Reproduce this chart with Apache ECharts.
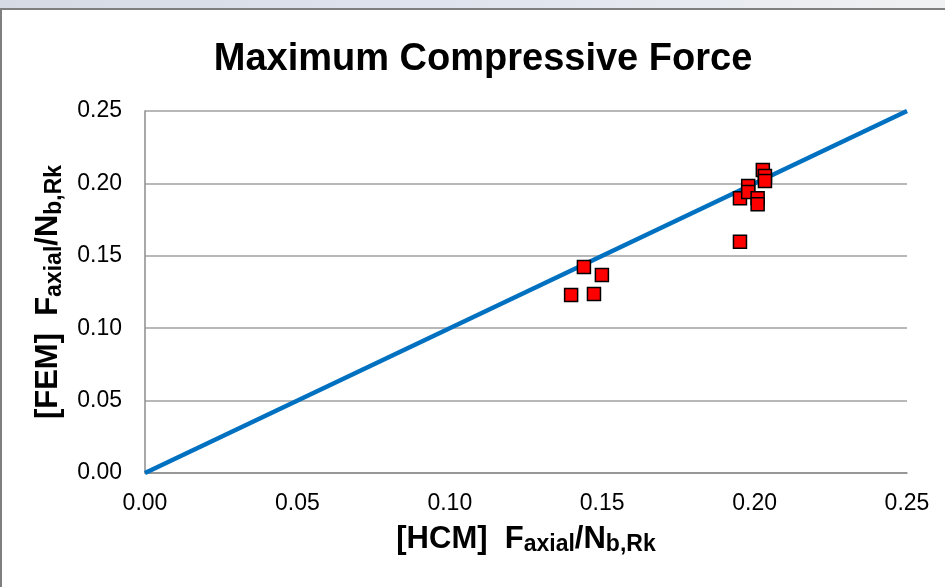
<!DOCTYPE html>
<html>
<head>
<meta charset="utf-8">
<script src="https://cdn.jsdelivr.net/npm/echarts@6/dist/echarts.min.js"></script>
<style>
  html, body { margin: 0; padding: 0; background: #fff; }
  #chart { width: 945px; height: 587px; }
</style>
</head>
<body>
<div id="chart"></div>
<script>
// data
const hcm = [0.1398, 0.1440, 0.1473, 0.1499, 0.1952, 0.1952, 0.1979, 0.1979, 0.2010, 0.2010, 0.2027, 0.2034, 0.2034];
const fem = [0.1229, 0.1423, 0.1236, 0.1367, 0.1597, 0.1897, 0.1982, 0.1941, 0.1897, 0.1856, 0.2093, 0.2051, 0.2017];
const refLine = [0, 0.25];
const ticks = ['0.00', '0.05', '0.10', '0.15', '0.20', '0.25'];

const points = hcm.map((x, i) => [x, fem[i]]);

const labelFont = 'Liberation Sans, Arial, sans-serif';
const nameRich = {
    m: { fontSize: 31, fontWeight: 'bold', color: '#000', fontFamily: labelFont, lineHeight: 32 },
    s: { fontSize: 23, fontWeight: 'bold', color: '#000', fontFamily: labelFont, lineHeight: 32, padding: [12, 0, 0, 0] }
};

const chart = echarts.init(document.getElementById('chart'));
chart.setOption({
    animation: false,
    title: {
        text: 'Maximum Compressive Force',
        left: 478,
        top: 36,
        textAlign: 'center',
        textStyle: { fontSize: 38, fontWeight: 'bold', color: '#000', fontFamily: labelFont }
    },
    graphic: [
        {
            type: 'rect', left: 0, top: 0, shape: { width: 945, height: 8 },
            style: {
                fill: new echarts.graphic.LinearGradient(0, 0, 1, 0, [
                    { offset: 0, color: '#d5dae5' },
                    { offset: 0.6, color: '#e2e6ef' },
                    { offset: 1, color: '#f0f1f2' }
                ])
            }
        },
        { type: 'rect', left: 0, top: 8, shape: { width: 945, height: 2 }, style: { fill: '#7f7f7f' } },
        { type: 'rect', left: 0, top: 8, shape: { width: 2, height: 579 }, style: { fill: '#7f7f7f' } }
    ],
    grid: { left: 145, right: 38, top: 111, bottom: 114 },
    xAxis: {
        type: 'value',
        min: 0, max: 0.25, interval: 0.05,
        name: '{m|[HCM]  F}{s|axial}{m|/N}{s|b,Rk}',
        nameLocation: 'middle',
        nameGap: 50,
        nameTextStyle: { rich: nameRich },
        axisLine: { show: true, lineStyle: { color: '#8c8c8c', width: 1.5 } },
        axisTick: { show: false },
        splitLine: { show: false },
        axisLabel: {
            margin: 19,
            fontSize: 23, color: '#000', fontFamily: labelFont,
            formatter: (v) => ticks[Math.round(v / 0.05)]
        }
    },
    yAxis: {
        type: 'value',
        min: 0, max: 0.25, interval: 0.05,
        name: '{m|[FEM]  F}{s|axial}{m|/N}{s|b,Rk}',
        nameLocation: 'middle',
        nameGap: 75,
        nameRotate: 90,
        nameTextStyle: { rich: nameRich },
        axisLine: { show: true, lineStyle: { color: '#8c8c8c', width: 1.5 } },
        axisTick: { show: false },
        splitLine: { show: true, lineStyle: { color: '#a0a0a0', width: 1.5 } },
        axisLabel: {
            margin: 23,
            fontSize: 23, color: '#000', fontFamily: labelFont,
            formatter: (v) => ticks[Math.round(v / 0.05)]
        }
    },
    series: [
        {
            type: 'line',
            data: refLine.map(v => [v, v]),
            symbol: 'none',
            lineStyle: { color: '#0070c0', width: 4.5 },
            z: 2
        },
        {
            type: 'scatter',
            data: points,
            symbol: 'rect',
            symbolSize: 13,
            itemStyle: { color: '#ff0000', borderColor: '#000', borderWidth: 1.5, opacity: 1 },
            z: 3
        }
    ]
});
window.addEventListener('resize', () => chart.resize());
</script>
</body>
</html>
